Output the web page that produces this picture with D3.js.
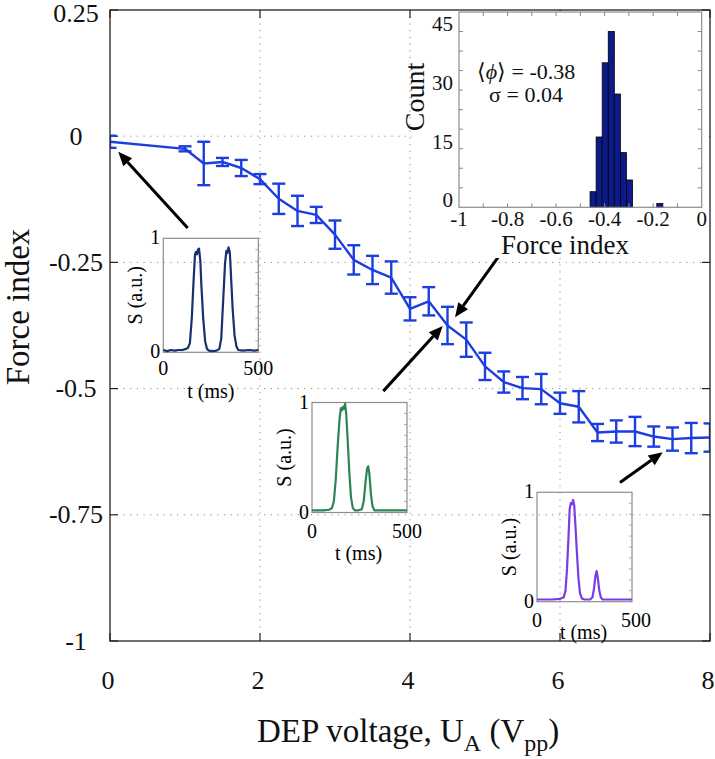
<!DOCTYPE html>
<html><head><meta charset="utf-8">
<script src="https://cdn.jsdelivr.net/npm/d3@7"></script>
<style>html,body{margin:0;padding:0;background:#fff}</style>
</head><body>
<script>
// ---------- DATA ----------
const voltages = [0,1,1.25,1.5,1.75,2,2.25,2.5,2.75,3,3.25,3.5,3.75,4,4.25,4.5,4.75,5,5.25,5.5,5.75,6,6.25,6.5,6.75,7,7.25,7.5,7.75,8];
const forceIndex = [-0.011,-0.025,-0.054,-0.051,-0.063,-0.085,-0.124,-0.148,-0.156,-0.195,-0.245,-0.265,-0.280,-0.342,-0.327,-0.375,-0.403,-0.456,-0.487,-0.499,-0.501,-0.529,-0.536,-0.587,-0.585,-0.585,-0.595,-0.600,-0.598,-0.597];
const forceErr = [0.012,0.005,0.043,0.008,0.016,0.010,0.030,0.030,0.016,0.028,0.029,0.028,0.032,0.023,0.028,0.037,0.034,0.027,0.021,0.022,0.030,0.021,0.031,0.017,0.022,0.029,0.020,0.023,0.030,0.028];
const xTicks = [0,2,4,6,8];
const xTickLabels = ["0","2","4","6","8"];
const yTicks = [0.25,0,-0.25,-0.5,-0.75,-1];
const yTickLabels = ["0.25","0","-0.25","-0.5","-0.75","-1"];

// histogram inset
const histBinLeft  = [-0.46,-0.435,-0.41,-0.385,-0.36,-0.335,-0.31,-0.185];
const histBinRight = [-0.435,-0.41,-0.385,-0.36,-0.335,-0.31,-0.285,-0.16];
const histCounts   = [4,18,37,45,29,14,7,1];
const histXTicks = [-1,-0.8,-0.6,-0.4,-0.2,0];
const histXTickLabels = ["-1","-0.8","-0.6","-0.4","-0.2","0"];
const histYTicks = [0,15,30,45];

// signal insets (t in ms, S in a.u.)
const sig1T = [0,20,40,60,80,100,120,130,140,150,160,167,172,177,182,188,195,200,210,220,230,240,260,280,295,305,315,325,332,337,343,350,357,365,375,385,395,420,450,480,500];
const sig1S = [0.02,0.01,0.02,0.015,0.02,0.02,0.03,0.04,0.08,0.3,0.65,0.86,0.88,0.86,0.9,0.91,0.8,0.6,0.3,0.1,0.03,0.015,0.01,0.015,0.03,0.12,0.45,0.78,0.89,0.87,0.92,0.88,0.65,0.38,0.15,0.05,0.02,0.015,0.02,0.015,0.02];
const sig2T = [0,30,60,90,105,115,125,135,145,152,158,163,168,174,180,188,196,205,215,225,245,262,272,282,290,296,302,310,318,328,360,400,450,500];
const sig2S = [0.02,0.02,0.02,0.025,0.04,0.1,0.3,0.6,0.85,0.95,0.93,0.96,0.94,0.99,0.9,0.65,0.38,0.14,0.04,0.02,0.02,0.03,0.1,0.28,0.4,0.42,0.35,0.17,0.06,0.02,0.02,0.02,0.02,0.02];
const sig3T = [0,40,80,120,140,150,158,166,172,178,184,190,196,202,210,218,226,236,250,280,292,300,308,314,320,328,336,345,380,420,460,500];
const sig3S = [0.02,0.02,0.02,0.025,0.04,0.1,0.3,0.6,0.85,0.9,0.89,0.93,0.88,0.7,0.45,0.22,0.08,0.03,0.02,0.02,0.04,0.12,0.24,0.28,0.22,0.1,0.04,0.02,0.02,0.02,0.02,0.02];

// arrows (data coordinates of main axes: [tailX, tailY, headX, headY])
const arrows = [
  [1.036,-0.182,0.11,-0.031],
  [5.29,-0.216,4.6,-0.3585],
  [3.644,-0.505,4.436,-0.376],
  [6.8,-0.686,7.369,-0.626]
];

// ---------- LAYOUT ----------
const W = 715, H = 759;
const M = {left:110, right:710, top:10, bottom:641};
const serif = "'Liberation Serif','Times New Roman',Times,serif";
const lineBlue = "#1c3ee0";

const svg = d3.select("body").append("svg").attr("width", W).attr("height", H)
  .style("font-family", serif);

const x = d3.scaleLinear().domain([0,8]).range([M.left, M.right]);
const y = d3.scaleLinear().domain([-1,0.25]).range([M.bottom, M.top]);

// grid
const grid = svg.append("g").attr("stroke","#8a8a8a").attr("stroke-width",1).attr("stroke-dasharray","1.2,5.5");
grid.selectAll(".gx").data(xTicks.filter(d=>d>0 && d<8)).join("line")
  .attr("x1",d=>x(d)).attr("x2",d=>x(d)).attr("y1",M.top).attr("y2",M.bottom);
grid.selectAll(".gy").data(yTicks.filter(d=>d<0.25 && d>-1)).join("line")
  .attr("x1",M.left).attr("x2",M.right).attr("y1",d=>y(d)).attr("y2",d=>y(d));

// ticks (inward)
const tk = svg.append("g").attr("stroke","#222").attr("stroke-width",1.2);
xTicks.forEach(d=>{
  tk.append("line").attr("x1",x(d)).attr("x2",x(d)).attr("y1",M.bottom).attr("y2",M.bottom-8);
  tk.append("line").attr("x1",x(d)).attr("x2",x(d)).attr("y1",M.top).attr("y2",M.top+8);
});
yTicks.forEach(d=>{
  tk.append("line").attr("x1",M.left).attr("x2",M.left+8).attr("y1",y(d)).attr("y2",y(d));
  tk.append("line").attr("x1",M.right).attr("x2",M.right-8).attr("y1",y(d)).attr("y2",y(d));
});

// data with clip
svg.append("defs").append("clipPath").attr("id","plotclip").append("rect")
  .attr("x",M.left).attr("y",M.top).attr("width",M.right-M.left).attr("height",M.bottom-M.top);
const pts = voltages.map((v,i)=>({v, f:forceIndex[i], e:forceErr[i]}));
const dg = svg.append("g").attr("clip-path","url(#plotclip)");
dg.append("path").datum(pts)
  .attr("fill","none").attr("stroke",lineBlue).attr("stroke-width",2.4).attr("stroke-linejoin","round")
  .attr("d", d3.line().x(d=>x(d.v)).y(d=>y(d.f)));
const eb = dg.selectAll(".eb").data(pts).join("g").attr("stroke",lineBlue).attr("stroke-width",2.4);
const capW = 6.5;
eb.append("line").attr("x1",d=>x(d.v)).attr("x2",d=>x(d.v)).attr("y1",d=>y(d.f+d.e)).attr("y2",d=>y(d.f-d.e));
eb.append("line").attr("x1",d=>x(d.v)-capW).attr("x2",d=>x(d.v)+capW).attr("y1",d=>y(d.f+d.e)).attr("y2",d=>y(d.f+d.e));
eb.append("line").attr("x1",d=>x(d.v)-capW).attr("x2",d=>x(d.v)+capW).attr("y1",d=>y(d.f-d.e)).attr("y2",d=>y(d.f-d.e));

// frame
svg.append("rect").attr("x",M.left).attr("y",M.top).attr("width",M.right-M.left).attr("height",M.bottom-M.top)
  .attr("fill","none").attr("stroke","#222").attr("stroke-width",1.3);

// tick labels
svg.append("g").selectAll("text").data(yTicks).join("text")
  .attr("x",76).attr("y",d=>Math.max(y(d), 13)).attr("dy","0.33em").attr("text-anchor","middle")
  .attr("font-size",26).attr("fill","#111").text((d,i)=>yTickLabels[i]);
svg.append("g").selectAll("text").data(xTicks).join("text")
  .attr("x",d=>x(d)-2).attr("y",689).attr("text-anchor","middle")
  .attr("font-size",26).attr("fill","#111").text((d,i)=>xTickLabels[i]);

// axis titles
svg.append("text").attr("transform","translate(29,307) rotate(-90)").attr("text-anchor","middle")
  .attr("font-size",33).attr("fill","#111").text("Force index");
const xl = svg.append("text").attr("x",257).attr("y",742).attr("font-size",33).attr("fill","#111");
xl.append("tspan").text("DEP voltage, U");
xl.append("tspan").attr("font-size",24).attr("dy",9).text("A");
xl.append("tspan").attr("dy",-9).text(" (V");
xl.append("tspan").attr("font-size",24).attr("dy",9).text("pp");
xl.append("tspan").attr("dy",-9).text(")");

// ---------- signal insets ----------
function signalInset(box, tArr, sArr, color, lbl) {
  const ix = d3.scaleLinear().domain([0,500]).range([box.l, box.r]);
  const iy = d3.scaleLinear().domain([0,1]).range([box.b, box.t]);
  const g = svg.append("g");
  g.append("rect").attr("x",box.l).attr("y",box.t).attr("width",box.r-box.l).attr("height",box.b-box.t)
    .attr("fill","none").attr("stroke","#8c8c8c").attr("stroke-width",1.2);
  d3.range(0.1,1,0.1).forEach(v=>{
    g.append("line").attr("x1",box.r).attr("x2",box.r-3).attr("y1",iy(v)).attr("y2",iy(v)).attr("stroke","#999").attr("stroke-width",0.8);
  });
  g.append("path").datum(tArr.map((t,i)=>[t,sArr[i]]))
    .attr("fill","none").attr("stroke",color).attr("stroke-width",2.2).attr("stroke-linejoin","round")
    .attr("d", d3.line().x(d=>ix(d[0])).y(d=>iy(d[1])));
  const fs = 20;
  g.append("text").attr("x",box.l-3).attr("y",iy(1)).attr("dy","0.3em").attr("text-anchor","end").attr("font-size",fs).text("1");
  g.append("text").attr("x",box.l-3).attr("y",iy(0)).attr("dy","0.3em").attr("text-anchor","end").attr("font-size",fs).text("0");
  g.append("text").attr("x",ix(0)).attr("y",box.b+lbl.tickY).attr("text-anchor","middle").attr("font-size",fs).text("0");
  g.append("text").attr("x",ix(500)+lbl.dx500).attr("y",box.b+lbl.tickY).attr("text-anchor","middle").attr("font-size",fs).text("500");
  g.append("text").attr("x",(box.l+box.r)/2+lbl.dxT).attr("y",box.b+lbl.titleY).attr("text-anchor","middle").attr("font-size",fs).text("t (ms)");
  g.append("text").attr("transform",`translate(${box.l-21},${(box.t+box.b)/2}) rotate(-90)`)
    .attr("text-anchor","middle").attr("font-size",fs).text("S (a.u.)");
}
signalInset({l:163.3,r:258.3,t:238.3,b:352.3}, sig1T, sig1S, "#17306e", {tickY:23, titleY:46, dx500:0, dxT:0});
signalInset({l:312,r:407,t:402.5,b:512.5}, sig2T, sig2S, "#2e8456", {tickY:25, titleY:47, dx500:0, dxT:-1});
signalInset({l:537,r:632,t:492.3,b:601.7}, sig3T, sig3S, "#7a3ce6", {tickY:25, titleY:37, dx500:4, dxT:-1});

// ---------- arrows ----------
function drawArrow(a){
  const x1=x(a[0]), y1=y(a[1]), x2=x(a[2]), y2=y(a[3]);
  const ang = Math.atan2(y2-y1, x2-x1);
  const L=14, Wd=6;
  const bx = x2 - L*Math.cos(ang), by = y2 - L*Math.sin(ang);
  svg.append("line").attr("x1",x1).attr("y1",y1).attr("x2",bx).attr("y2",by)
    .attr("stroke","#000").attr("stroke-width",3);
  const p = [[x2,y2],[bx+Wd*Math.sin(ang), by-Wd*Math.cos(ang)],[bx-Wd*Math.sin(ang), by+Wd*Math.cos(ang)]];
  svg.append("path").attr("d","M"+p.map(q=>q.join(",")).join("L")+"Z").attr("fill","#000");
}
arrows.forEach(drawArrow);

// ---------- histogram inset ----------
const hb = {l:459, r:701.7, t:12, b:207.3};
svg.append("rect").attr("x",412).attr("y",M.top+1).attr("width",M.right-412-1).attr("height",257-M.top).attr("fill","#fff");
const hx = d3.scaleLinear().domain([-1,0]).range([hb.l, hb.r]);
const hy = d3.scaleLinear().domain([0,50]).range([hb.b, hb.t]);
const hg = svg.append("g");
hg.selectAll("rect.bar").data(histCounts).join("rect")
  .attr("x",(d,i)=>hx(histBinLeft[i])).attr("width",(d,i)=>hx(histBinRight[i])-hx(histBinLeft[i]))
  .attr("y",d=>hy(d)).attr("height",d=>hy(0)-hy(d))
  .attr("fill","#0c1a8a").attr("stroke","#000").attr("stroke-width",0.8);
hg.append("rect").attr("x",hb.l).attr("y",hb.t).attr("width",hb.r-hb.l).attr("height",hb.b-hb.t)
  .attr("fill","none").attr("stroke","#8c8c8c").attr("stroke-width",1.2);
d3.range(-0.9,0,0.1).forEach(v=>{
  hg.append("line").attr("x1",hx(v)).attr("x2",hx(v)).attr("y1",hb.b).attr("y2",hb.b-4).attr("stroke","#888");
  hg.append("line").attr("x1",hx(v)).attr("x2",hx(v)).attr("y1",hb.t).attr("y2",hb.t+4).attr("stroke","#888");
});
d3.range(5,50,5).forEach(v=>{
  hg.append("line").attr("x1",hb.l).attr("x2",hb.l+4).attr("y1",hy(v)).attr("y2",hy(v)).attr("stroke","#888");
  hg.append("line").attr("x1",hb.r).attr("x2",hb.r-4).attr("y1",hy(v)).attr("y2",hy(v)).attr("stroke","#888");
});
hg.selectAll("text.hy").data(histYTicks).join("text")
  .attr("x",hb.l-6).attr("y",d=>hy(d)-7).attr("dy","0.33em").attr("text-anchor","end")
  .attr("font-size",21).attr("fill","#111").text(d=>d);
hg.selectAll("text.hx").data(histXTicks).join("text")
  .attr("x",d=>hx(d)).attr("y",226).attr("text-anchor","middle")
  .attr("font-size",21).attr("fill","#111").text((d,i)=>histXTickLabels[i]);
hg.append("text").attr("transform","translate(424,97) rotate(-90)").attr("text-anchor","middle")
  .attr("font-size",28).attr("fill","#111").text("Count");
hg.append("text").attr("x",565).attr("y",254).attr("text-anchor","middle")
  .attr("font-size",27).attr("fill","#111").text("Force index");
const mt = hg.append("text").attr("x",526).attr("y",79).attr("text-anchor","middle").attr("font-size",22).attr("fill","#111");
mt.append("tspan").text("\u27E8");
mt.append("tspan").attr("font-style","italic").text("\u03D5");
mt.append("tspan").text("\u27E9 = -0.38");
hg.append("text").attr("x",526).attr("y",102).attr("text-anchor","middle").attr("font-size",22).attr("fill","#111").text("\u03C3 = 0.04");
</script>
</body></html>
